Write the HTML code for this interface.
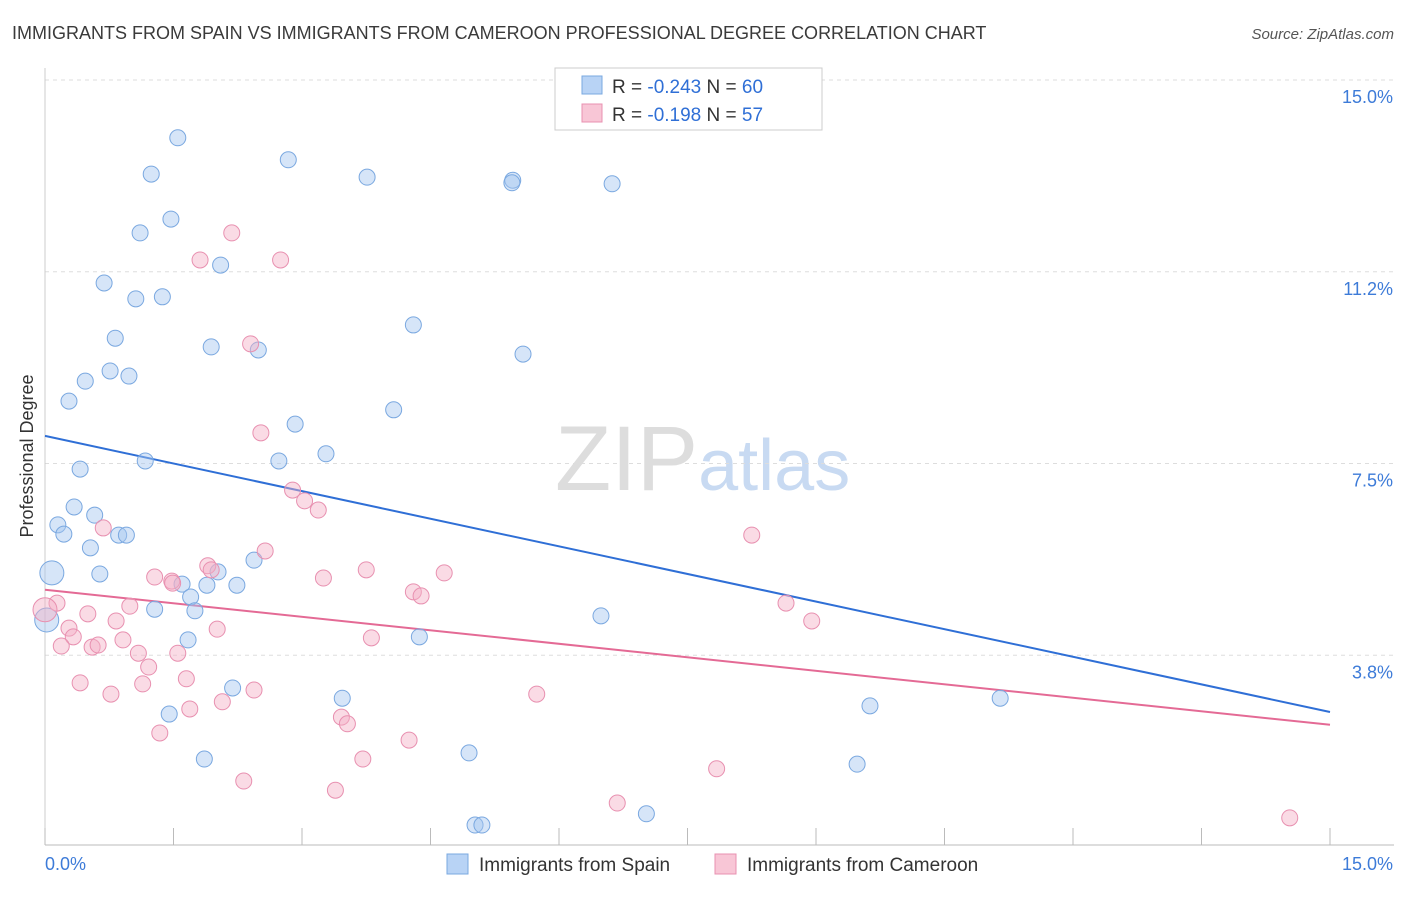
<!DOCTYPE html>
<html><head><meta charset="utf-8"><style>
body{margin:0;background:#fff;font-family:"Liberation Sans",sans-serif}
svg text{font-family:"Liberation Sans",sans-serif}
</style></head><body>
<svg id="chart" width="1406" height="892" xmlns="http://www.w3.org/2000/svg">
<text x="12" y="39" font-size="18" fill="#3a3a3a">IMMIGRANTS FROM SPAIN VS IMMIGRANTS FROM CAMEROON PROFESSIONAL DEGREE CORRELATION CHART</text>
<text x="1394" y="39" font-size="15" fill="#555" font-style="italic" text-anchor="end">Source: ZipAtlas.com</text>
<text x="555" y="490" font-size="92" fill="#ddd" font-family="Liberation Serif" >ZIP<tspan fill="#c8daf2" font-family="Liberation Sans" font-size="72">atlas</tspan></text>
<text transform="translate(33,456) rotate(-90)" font-size="18" fill="#333" text-anchor="middle">Professional Degree</text>
<g id="grid"></g><g id="ticks"></g><g id="lines"></g><g id="pts"></g>
<g>
<rect x="555" y="68" width="267" height="62" fill="#fff" stroke="#ccc"/>
<rect x="582" y="76" width="20" height="18" fill="#b8d3f5" stroke="#7aa8e0"/>
<rect x="582" y="104" width="20" height="18" fill="#f8c6d6" stroke="#e890b0"/>
<text x="612" y="93" font-size="19" fill="#333">R = <tspan fill="#2f6fd6">-0.243</tspan>   N = <tspan fill="#2f6fd6">60</tspan></text>
<text x="612" y="121" font-size="19" fill="#333">R =  <tspan fill="#2f6fd6">-0.198</tspan>   N =  <tspan fill="#2f6fd6">57</tspan></text>
</g>
<g>
<rect x="447" y="854" width="21" height="20" fill="#b8d3f5" stroke="#7aa8e0"/>
<text x="479" y="871" font-size="19" fill="#333">Immigrants from Spain</text>
<rect x="715" y="854" width="21" height="20" fill="#f8c6d6" stroke="#e890b0"/>
<text x="747" y="871" font-size="19" fill="#333">Immigrants from Cameroon</text>
</g>
</svg>
<script>
const yTicks=[3.75,7.5,11.25,15];
const yTickLabels=["3.8%","7.5%","11.2%","15.0%"];
const xTicks=[0,1.5,3,4.5,6,7.5,9,10.5,12,13.5,15];
const spainX=[1.55,1.24,2.84,3.76,5.46,5.45,6.62,1.11,1.47,2.05,0.69,1.06,1.37,4.30,0.82,1.94,2.49,5.58,0.76,0.98,0.47,0.28,4.07,2.92,3.28,1.17,2.73,0.41,0.34,0.58,0.15,0.22,0.53,0.86,0.95,0.64,2.44,2.02,1.60,1.89,2.24,1.70,1.28,1.75,6.49,1.67,4.37,2.19,3.47,9.63,11.15,1.45,1.86,4.95,9.48,7.02,5.02,5.10,0.02,0.08];
const spainY=[13.87,13.16,13.44,13.10,13.04,12.99,12.97,12.01,12.28,11.38,11.03,10.72,10.76,10.21,9.95,9.78,9.72,9.64,9.31,9.21,9.11,8.72,8.55,8.27,7.69,7.55,7.55,7.39,6.65,6.49,6.30,6.12,5.85,6.10,6.10,5.34,5.61,5.38,5.14,5.12,5.12,4.89,4.65,4.62,4.52,4.05,4.11,3.11,2.91,2.76,2.91,2.60,1.72,1.84,1.62,0.65,0.43,0.43,4.44,5.36];
const camX=[2.18,1.81,2.75,2.40,2.52,2.89,3.03,3.19,0.68,8.25,2.57,1.28,1.48,1.90,1.94,3.25,3.75,4.66,4.30,4.39,1.49,8.65,8.95,0.50,0.99,0.14,0.28,0.83,2.01,0.33,0.19,0.55,0.62,0.91,1.09,1.55,3.81,1.21,0.41,1.65,0.77,1.14,2.44,2.07,1.69,3.46,3.53,5.74,1.34,4.25,3.71,7.84,2.32,3.39,6.68,14.53,0];
const camY=[12.01,11.48,11.48,9.84,8.10,6.98,6.77,6.59,6.24,6.10,5.79,5.28,5.20,5.50,5.42,5.26,5.42,5.36,4.99,4.91,5.16,4.77,4.42,4.56,4.71,4.77,4.28,4.42,4.26,4.11,3.93,3.91,3.95,4.05,3.79,3.79,4.09,3.52,3.21,3.29,2.99,3.19,3.07,2.84,2.70,2.54,2.41,2.99,2.23,2.09,1.72,1.53,1.29,1.11,0.86,0.57,4.64];
const spainLine=[8.04,2.64];
const camLine=[5.03,2.39];
const NS="http://www.w3.org/2000/svg";
const X=v=>45+v/15*1285, Y=v=>847-v/15*767;
function mk(p,t,a){const e=document.createElementNS(NS,t);for(const k in a)e.setAttribute(k,a[k]);document.getElementById(p).appendChild(e);return e;}
yTicks.forEach((t,i)=>{
 const g=mk('grid','line',{x1:45,x2:1394,y1:Y(t),y2:Y(t),stroke:'#ddd','stroke-dasharray':'4,4'});
 
 
 const l=mk('ticks','text',{x:1393,y:Y(t)+23,'font-size':18,fill:'#3d7bd8','text-anchor':'end'});l.textContent=yTickLabels[i];
 
 
});
const ax=mk('ticks','line',{x1:45,x2:1394,y1:845,y2:845,stroke:'#bbb'});


const ay=mk('ticks','line',{x1:45,x2:45,y1:68,y2:845,stroke:'#ccc'});


xTicks.forEach(t=>{const e=mk('ticks','line',{x1:X(t),x2:X(t),y1:828,y2:845,stroke:'#bbb'});
 
 });
const xl0=mk('ticks','text',{x:45,y:870,'font-size':18,fill:'#3d7bd8'});xl0.textContent="0.0%";


const xl1=mk('ticks','text',{x:1393,y:870,'font-size':18,fill:'#3d7bd8','text-anchor':'end'});xl1.textContent="15.0%";


function pts(xs,ys,fill,stroke,name){xs.forEach((x,i)=>{const big=x<0.1;
 const c=mk('pts','circle',{cx:X(x),cy:Y(ys[i]),r:big?12:8,fill:fill,stroke:stroke,'stroke-width':1});
 
 });}
pts(spainX,spainY,'rgba(165,198,240,0.45)','#7aa8e0','spain-point');
pts(camX,camY,'rgba(245,175,198,0.45)','#e890b0','cameroon-point');
const l1=mk('lines','line',{x1:X(0),y1:Y(spainLine[0]),x2:X(15),y2:Y(spainLine[1]),stroke:'#2f6fd6','stroke-width':2});


const l2=mk('lines','line',{x1:X(0),y1:Y(camLine[0]),x2:X(15),y2:Y(camLine[1]),stroke:'#e46a95','stroke-width':2});


</script>
</body></html>
